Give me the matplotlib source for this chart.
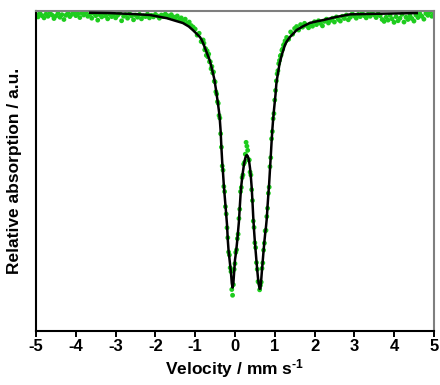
import numpy as np
import matplotlib
matplotlib.use("Agg")
import matplotlib.pyplot as plt

plt.rcParams['font.family'] = ['Liberation Sans', 'DejaVu Sans']
plt.rcParams['font.weight'] = 'bold'
plt.rcParams['mathtext.fontset'] = 'custom'
plt.rcParams['mathtext.rm'] = 'Liberation Sans:bold'
plt.rcParams['mathtext.bf'] = 'Liberation Sans:bold'
plt.rcParams['mathtext.default'] = 'bf'

# measured spectrum (velocity in mm/s, normalised transmission)
vel_left = [-5.00, -4.95, -4.90, -4.85, -4.80, -4.75, -4.70, -4.65, -4.60, -4.55,
            -4.50, -4.45, -4.40, -4.35, -4.30, -4.25, -4.20, -4.15, -4.10, -4.05,
            -4.00, -3.95, -3.90, -3.85, -3.80, -3.75, -3.70, -3.65, -3.60, -3.55,
            -3.50, -3.45, -3.40, -3.35, -3.30, -3.25, -3.20, -3.15, -3.10, -3.05,
            -3.00, -2.95, -2.90, -2.85, -2.80, -2.75, -2.70, -2.65, -2.60, -2.55,
            -2.50, -2.45, -2.40, -2.35, -2.30, -2.25, -2.20, -2.15, -2.10, -2.05,
            -2.00, -1.95, -1.90, -1.85, -1.80, -1.75, -1.70, -1.65, -1.60, -1.55,
            -1.50, -1.45, -1.40, -1.35, -1.30, -1.25, -1.20, -1.15, -1.10, -1.05,
            -1.00, -0.95, -0.90, -0.85, -0.80]
trans_left = [0.990, 0.982, 0.993, 0.986, 0.979, 0.991, 0.984, 0.996, 0.988, 0.977,
              0.985, 0.993, 0.981, 0.989, 0.974, 0.987, 0.995, 0.983, 0.990, 0.997,
              0.986, 0.992, 0.980, 0.994, 0.988, 0.996, 0.984, 0.990, 0.978, 0.993,
              0.986, 0.972, 0.989, 0.982, 0.994, 0.985, 0.976, 0.990, 0.983, 0.991,
              0.979, 0.987, 0.993, 0.970, 0.984, 0.989, 0.978, 0.992, 0.985, 0.973,
              0.988, 0.981, 0.990, 0.976, 0.986, 0.983, 0.991, 0.979, 0.987, 0.982,
              0.990, 0.985, 0.978, 0.988, 0.983, 0.991, 0.986, 0.980, 0.989, 0.982,
              0.978, 0.985, 0.972, 0.979, 0.968, 0.975, 0.962, 0.966, 0.955, 0.950,
              0.944, 0.925, 0.931, 0.905, 0.910]

vel_mid = [-0.78, -0.76, -0.74, -0.72, -0.70, -0.68, -0.66, -0.64, -0.62, -0.60,
           -0.58, -0.56, -0.54, -0.52, -0.50, -0.48, -0.46, -0.44, -0.42, -0.40,
           -0.38, -0.36, -0.34, -0.32, -0.30, -0.28, -0.26, -0.24, -0.22, -0.20,
           -0.18, -0.16, -0.14, -0.12, -0.10, -0.08, -0.06, -0.04, -0.02, 0.00,
           0.02, 0.04, 0.06, 0.08, 0.10, 0.12, 0.14, 0.16, 0.18, 0.20,
           0.22, 0.24, 0.26, 0.28, 0.30, 0.32, 0.34, 0.36, 0.38, 0.40,
           0.42, 0.44, 0.46, 0.48, 0.50, 0.52, 0.54, 0.56, 0.58, 0.60,
           0.62, 0.64, 0.66, 0.68, 0.70, 0.72, 0.74, 0.76, 0.78, 0.80,
           0.82, 0.84, 0.86, 0.88, 0.90, 0.92, 0.94, 0.96, 0.98, 1.00,
           1.02, 1.04, 1.06, 1.08, 1.10, 1.12, 1.14, 1.16, 1.18, 1.20,
           1.22, 1.24, 1.26, 1.28]
trans_mid = [0.900, 0.879, 0.883, 0.862, 0.876, 0.857, 0.866, 0.842, 0.842, 0.820,
             0.827, 0.807, 0.810, 0.781, 0.779, 0.748, 0.741, 0.717, 0.712, 0.674,
             0.666, 0.617, 0.575, 0.516, 0.503, 0.452, 0.436, 0.389, 0.366, 0.323,
             0.292, 0.247, 0.238, 0.198, 0.186, 0.130, 0.112, 0.145, 0.193, 0.211,
             0.246, 0.254, 0.289, 0.303, 0.352, 0.381, 0.436, 0.449, 0.480, 0.488,
             0.522, 0.527, 0.553, 0.590, 0.578, 0.565, 0.535, 0.535, 0.497, 0.488,
             0.442, 0.408, 0.344, 0.324, 0.276, 0.261, 0.214, 0.193, 0.155, 0.152,
             0.129, 0.143, 0.153, 0.196, 0.213, 0.253, 0.275, 0.313, 0.315, 0.358,
             0.384, 0.431, 0.450, 0.514, 0.542, 0.601, 0.624, 0.664, 0.680, 0.722,
             0.752, 0.782, 0.804, 0.814, 0.836, 0.846, 0.860, 0.863, 0.878, 0.882,
             0.894, 0.897, 0.907, 0.907]

vel_right = [1.30, 1.35, 1.40, 1.45, 1.50, 1.55, 1.60, 1.65, 1.70, 1.75,
             1.80, 1.85, 1.90, 1.95, 2.00, 2.05, 2.10, 2.15, 2.20, 2.25,
             2.30, 2.35, 2.40, 2.45, 2.50, 2.55, 2.60, 2.65, 2.70, 2.75,
             2.80, 2.85, 2.90, 2.95, 3.00, 3.05, 3.10, 3.15, 3.20, 3.25,
             3.30, 3.35, 3.40, 3.45, 3.50, 3.55, 3.60, 3.65, 3.70, 3.75,
             3.80, 3.85, 3.90, 3.95, 4.00, 4.05, 4.10, 4.15, 4.20, 4.25,
             4.30, 4.35, 4.40, 4.45, 4.50, 4.55, 4.60, 4.65, 4.70, 4.75,
             4.80, 4.85, 4.90, 4.95, 5.00]
trans_right = [0.918, 0.912, 0.935, 0.928, 0.946, 0.952, 0.941, 0.958, 0.950, 0.962,
               0.955, 0.948, 0.960, 0.953, 0.967, 0.958, 0.970, 0.962, 0.954, 0.968,
               0.975, 0.963, 0.971, 0.978, 0.966, 0.982, 0.974, 0.969, 0.984, 0.977,
               0.988, 0.973, 0.981, 0.992, 0.985, 0.978, 0.990, 0.983, 0.994, 0.986,
               0.979, 0.991, 0.984, 0.995, 0.988, 0.980, 0.992, 0.986, 0.974, 0.968,
               0.981, 0.972, 0.987, 0.976, 0.965, 0.983, 0.970, 0.978, 0.990, 0.966,
               0.981, 0.974, 0.986, 0.977, 0.969, 0.988, 0.980, 0.992, 0.984, 0.975,
               0.993, 0.987, 0.997, 0.984, 0.991]

# fitted doublet
fit_vel = [-3.64, -3.14, -2.56, -2.14, -1.71, -1.50, -1.31, -1.16, -1.06, -0.96,
           -0.88, -0.84, -0.80, -0.76, -0.72, -0.68, -0.64, -0.60, -0.56, -0.52,
           -0.48, -0.44, -0.42, -0.40, -0.38, -0.36, -0.34, -0.32, -0.30, -0.28,
           -0.26, -0.24, -0.22, -0.20, -0.18, -0.16, -0.14, -0.12, -0.10, -0.08,
           -0.06, -0.04, -0.02, 0.00, 0.02, 0.04, 0.06, 0.08, 0.10, 0.12,
           0.14, 0.16, 0.18, 0.20, 0.22, 0.24, 0.26, 0.28, 0.30, 0.32,
           0.34, 0.36, 0.38, 0.40, 0.42, 0.44, 0.46, 0.48, 0.50, 0.52,
           0.54, 0.56, 0.58, 0.60, 0.62, 0.64, 0.66, 0.68, 0.70, 0.72,
           0.74, 0.76, 0.78, 0.80, 0.82, 0.84, 0.86, 0.88, 0.90, 0.92,
           0.94, 0.96, 0.98, 1.00, 1.02, 1.04, 1.06, 1.08, 1.10, 1.12,
           1.14, 1.16, 1.18, 1.20, 1.22, 1.24, 1.26, 1.28, 1.30, 1.34,
           1.38, 1.46, 1.55, 1.70, 1.88, 2.05, 2.21, 2.55, 2.89, 3.64, 4.57]
fit_trans = [0.995, 0.994, 0.991, 0.988, 0.978, 0.970, 0.963, 0.952, 0.941, 0.929,
             0.919, 0.911, 0.900, 0.887, 0.874, 0.861, 0.848, 0.830, 0.810, 0.788,
             0.757, 0.722, 0.704, 0.685, 0.660, 0.625, 0.572, 0.528, 0.494, 0.456,
             0.425, 0.395, 0.364, 0.333, 0.285, 0.250, 0.228, 0.205, 0.182, 0.150,
             0.136, 0.150, 0.185, 0.222, 0.240, 0.262, 0.286, 0.315, 0.343, 0.385,
             0.425, 0.455, 0.478, 0.498, 0.515, 0.530, 0.541, 0.548, 0.550, 0.547,
             0.540, 0.527, 0.508, 0.482, 0.450, 0.405, 0.356, 0.315, 0.280, 0.250,
             0.220, 0.191, 0.165, 0.145, 0.132, 0.133, 0.160, 0.192, 0.222, 0.252,
             0.280, 0.305, 0.326, 0.352, 0.392, 0.428, 0.462, 0.505, 0.546, 0.590,
             0.630, 0.662, 0.690, 0.715, 0.740, 0.772, 0.790, 0.805, 0.820, 0.835,
             0.845, 0.855, 0.865, 0.872, 0.880, 0.888, 0.895, 0.900, 0.905, 0.912,
             0.919, 0.929, 0.941, 0.952, 0.963, 0.968, 0.972, 0.982, 0.990, 0.992, 0.994]

xticks = [-5, -4, -3, -2, -1, 0, 1, 2, 3, 4, 5]

fig = plt.figure(figsize=(4.4, 3.85), dpi=100)
ax = fig.add_axes([0.082, 0.140, 0.904, 0.831])

green = '#1ecc1e'
for v, t in [(vel_left, trans_left), (vel_mid, trans_mid), (vel_right, trans_right)]:
    ax.scatter(v, t, s=12, color=green, edgecolors='none', zorder=2)
ax.plot(fit_vel, fit_trans, color='black', lw=1.8, zorder=3)

ax.set_xlim(-5, 5)
ax.set_ylim(0, 1)
ax.set_xticks(xticks)
ax.set_xticklabels([str(t) for t in xticks])
ax.set_yticks([])
ax.tick_params(axis='x', direction='out', length=4, width=1.4, labelsize=12, pad=2)

for s in ['left', 'bottom']:
    ax.spines[s].set_linewidth(1.5)
    ax.spines[s].set_color('black')
for s in ['top', 'right']:
    ax.spines[s].set_linewidth(1.5)
    ax.spines[s].set_color('#7f7f7f')

ax.set_xlabel(r'Velocity / mm s$^{\text{-1}}$', fontsize=12.5, fontweight='bold', labelpad=2)
ax.set_ylabel('Relative absorption / a.u.', fontsize=12.5, fontweight='bold')
ax.yaxis.set_label_coords(-0.036, 0.5)

fig.savefig('out.png', dpi=100)
